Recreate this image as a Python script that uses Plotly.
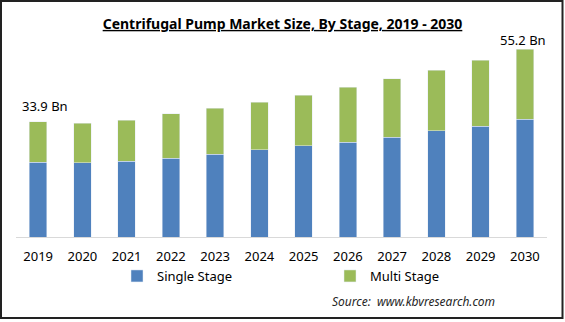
import plotly.graph_objects as go

years = ["2019", "2020", "2021", "2022", "2023", "2024", "2025", "2026", "2027", "2028", "2029", "2030"]
single_stage = [22.0, 21.8, 22.3, 23.2, 24.4, 25.6, 26.8, 27.9, 29.4, 31.2, 32.6, 34.7]
multi_stage = [11.9, 11.7, 12.1, 13.0, 13.5, 14.1, 14.9, 16.2, 17.1, 17.9, 19.4, 20.5]
totals = [33.9, 33.5, 34.4, 36.2, 37.9, 39.7, 41.7, 44.1, 46.5, 49.1, 52.0, 55.2]
label_text = {"2019": "33.9 Bn", "2030": "55.2 Bn"}

BLUE = "#4F81BD"
GREEN = "#9BBB59"
FONT = "Noto Sans"

W, H = 565, 322
ML, MR, MT, MB = 16, 18, 40, 85
PW = W - ML - MR
PH = H - MT - MB

def px_x(p):
    return (p - ML) / PW

def px_y(p):
    return (H - MB - p) / PH

fig = go.Figure()
fig.add_trace(go.Bar(x=years, y=single_stage, name="Single Stage", marker_color=BLUE))
fig.add_trace(go.Bar(x=years, y=multi_stage, name="Multi Stage", marker_color=GREEN))

shifts = {"2019": (7, 16), "2030": (-2, 9)}
for i, (yr, tot) in enumerate(zip(years, totals)):
    if yr in label_text:
        dx, dy = shifts[yr]
        fig.add_annotation(x=i, y=tot, xref="x", yref="y", text=label_text[yr],
                           showarrow=False, yanchor="middle", xanchor="center",
                           xshift=dx, yshift=dy,
                           font=dict(family=FONT, size=13, color="#000000"))
fig.add_annotation(x=px_x(497), y=px_y(301), xref="paper", yref="paper",
                   text="Source:  www.kbvresearch.com", showarrow=False,
                   xanchor="right", yanchor="middle",
                   font=dict(family=FONT, size=12, color="#262626", style="italic"))

fig.update_layout(
    width=W, height=H,
    margin=dict(l=ML, r=MR, t=MT, b=MB),
    paper_bgcolor="white", plot_bgcolor="white",
    barmode="stack", bargap=0.6,
    title=dict(text="<b>Centrifugal Pump Market Size, By Stage, 2019 - 2030</b>",
               x=0.5, xref="container", xanchor="center",
               y=1 - 24 / H, yref="container", yanchor="middle",
               font=dict(family=FONT, size=14, color="#000000", lineposition="under")),
    xaxis=dict(type="category", range=[-0.5, 11.5], showline=True, linecolor="#D9D9D9",
               linewidth=1, ticks="", showgrid=False, ticklabelstandoff=7,
               tickfont=dict(family=FONT, size=13, color="#000000")),
    yaxis=dict(range=[0, 57.94], showticklabels=False, showline=False, zeroline=False,
               ticks="", showgrid=False),
    legend=dict(orientation="h", x=px_x(117), xanchor="left", y=px_y(276), yanchor="middle",
                entrywidth=168, entrywidthmode="pixels", itemwidth=30,
                font=dict(family=FONT, size=13, color="#000000"), traceorder="normal"),
    shapes=[dict(type="rect", xref="paper", yref="paper",
                 x0=px_x(1), x1=px_x(562.5), y0=px_y(318), y1=px_y(1),
                 line=dict(color="#222222", width=2), fillcolor="rgba(0,0,0,0)")],
)

fig.write_html("out.html")
